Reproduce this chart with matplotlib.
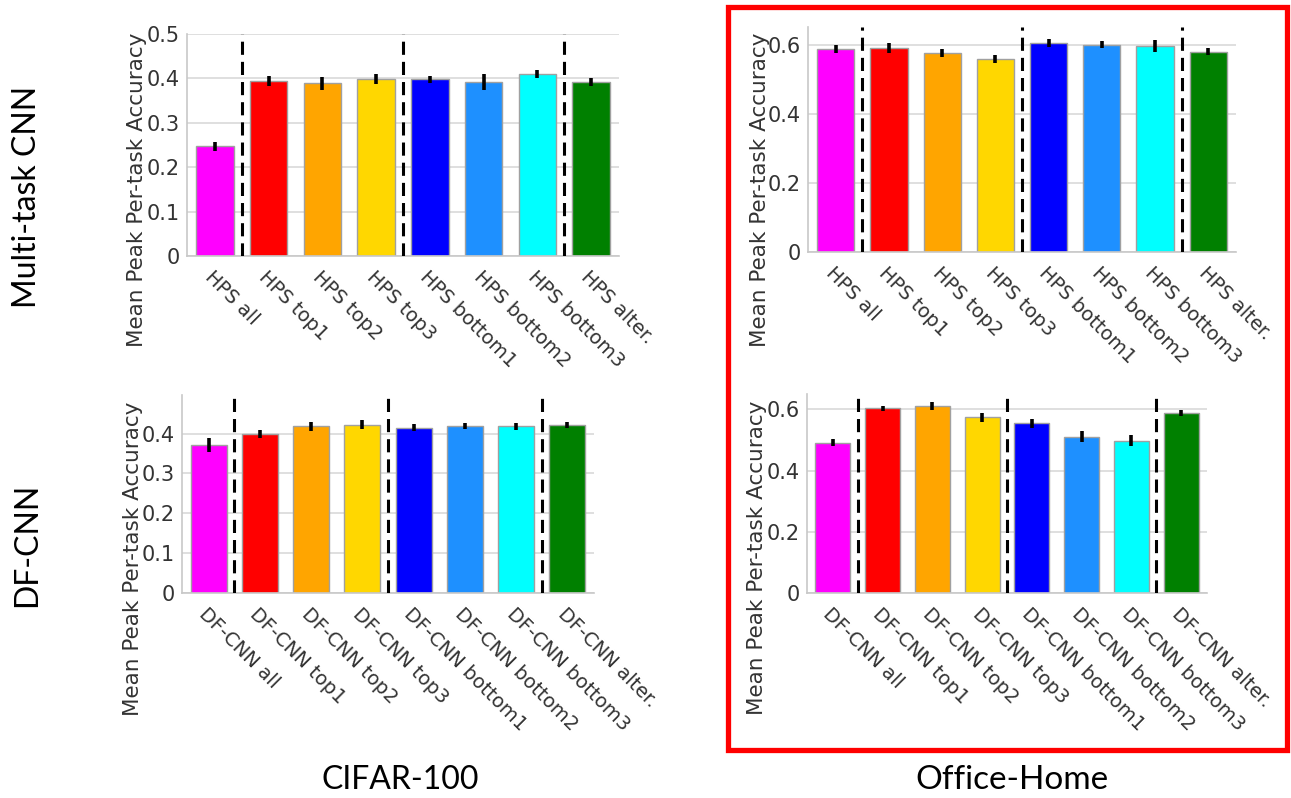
import matplotlib
matplotlib.use("Agg")
import matplotlib.pyplot as plt
from matplotlib.patches import Rectangle

W, H = 1291, 798

colors = ['#FF00FF', '#FF0000', '#FFA500', '#FFD700', '#0000FF', '#1E90FF', '#00FFFF', '#008000']

hps_labels = ['HPS all', 'HPS top1', 'HPS top2', 'HPS top3',
              'HPS bottom1', 'HPS bottom2', 'HPS bottom3', 'HPS alter.']
dfcnn_labels = ['DF-CNN all', 'DF-CNN top1', 'DF-CNN top2', 'DF-CNN top3',
                'DF-CNN bottom1', 'DF-CNN bottom2', 'DF-CNN bottom3', 'DF-CNN alter.']

# CIFAR-100, Multi-task CNN (HPS)
cifar_hps_mean = [0.247, 0.394, 0.389, 0.399, 0.398, 0.392, 0.410, 0.393]
cifar_hps_err = [0.010, 0.011, 0.014, 0.012, 0.008, 0.017, 0.008, 0.009]
# Office-Home, Multi-task CNN (HPS)
office_hps_mean = [0.587, 0.590, 0.575, 0.558, 0.605, 0.600, 0.595, 0.580]
office_hps_err = [0.011, 0.014, 0.011, 0.011, 0.011, 0.010, 0.017, 0.010]
# CIFAR-100, DF-CNN
cifar_df_mean = [0.371, 0.399, 0.418, 0.422, 0.415, 0.420, 0.418, 0.422]
cifar_df_err = [0.017, 0.009, 0.012, 0.011, 0.009, 0.0075, 0.009, 0.0075]
# Office-Home, DF-CNN
office_df_mean = [0.491, 0.603, 0.611, 0.574, 0.554, 0.511, 0.497, 0.588]
office_df_err = [0.012, 0.009, 0.013, 0.015, 0.014, 0.017, 0.018, 0.011]

separators = [0.5, 3.5, 6.5]

fig = plt.figure(figsize=(W / 100, H / 100), dpi=100)


def add_ax(x0, y0, x1, y1):
    return fig.add_axes([x0 / W, 1 - y1 / H, (x1 - x0) / W, (y1 - y0) / H])


def draw(ax, means, errs, labels, ylim, yticks, yticklabels, ylab_xy):
    xs = list(range(len(means)))
    ax.set_axisbelow(True)
    ax.yaxis.grid(True, color='#d9d9d9', lw=1.2)
    ax.bar(xs, means, width=0.7, color=colors, edgecolor='#a0a0a0', linewidth=1.0, zorder=2)
    ax.errorbar(xs, means, yerr=errs, fmt='none', ecolor='black', elinewidth=2.6, capsize=0, zorder=3)
    for s in separators:
        ax.axvline(s, color='black', lw=2.2, ls=(0, (4.3, 2.3)), zorder=4)
    ax.set_xlim(-0.52, 7.52)
    ax.set_ylim(*ylim)
    ax.set_yticks(yticks)
    ax.set_yticklabels(yticklabels)
    ax.set_xticks(xs)
    ax.set_xticklabels(labels, rotation=-45, ha='left', va='top', rotation_mode='anchor')
    ax.tick_params(axis='both', length=0, colors='#333333')
    ax.tick_params(axis='y', labelsize=15, pad=5)
    ax.tick_params(axis='x', labelsize=14, pad=8)
    for side in ['top', 'right']:
        ax.spines[side].set_visible(False)
    for side in ['left', 'bottom']:
        ax.spines[side].set_color('#c8c8c8')
        ax.spines[side].set_linewidth(1.2)
    fig.text(ylab_xy[0] / W, 1 - ylab_xy[1] / H, 'Mean Peak Per-task Accuracy',
             rotation=90, ha='center', va='center', fontsize=15.5, color='#333333')


ax1 = add_ax(187, 34, 619, 256)
draw(ax1, cifar_hps_mean, cifar_hps_err, hps_labels, (0, 0.5),
     [0, 0.1, 0.2, 0.3, 0.4, 0.5], ['0', '0.1', '0.2', '0.3', '0.4', '0.5'], (137, 190))

ax2 = add_ax(808, 27, 1236, 252)
draw(ax2, office_hps_mean, office_hps_err, hps_labels, (0, 0.651),
     [0, 0.2, 0.4, 0.6], ['0', '0.2', '0.4', '0.6'], (760, 190))

ax3 = add_ax(182, 395, 594, 593)
draw(ax3, cifar_df_mean, cifar_df_err, dfcnn_labels, (0, 0.497),
     [0, 0.1, 0.2, 0.3, 0.4], ['0', '0.1', '0.2', '0.3', '0.4'], (133, 559))

ax4 = add_ax(807, 394, 1207, 593)
draw(ax4, office_df_mean, office_df_err, dfcnn_labels, (0, 0.65),
     [0, 0.2, 0.4, 0.6], ['0', '0.2', '0.4', '0.6'], (757, 558))

big = dict(family=['Lato', 'DejaVu Sans'], color='black')
fig.text(27 / W, 1 - 197 / H, 'Multi-task CNN', rotation=90, ha='center', va='center', fontsize=23, **big)
fig.text(27 / W, 1 - 545 / H, 'DF-CNN', rotation=90, ha='center', va='center', fontsize=23, **big)
fig.text(400 / W, 1 - 780 / H, 'CIFAR-100', ha='center', va='center', fontsize=23, **big)
fig.text(1012 / W, 1 - 780 / H, 'Office-Home', ha='center', va='center', fontsize=24, **big)

rect = Rectangle((728 / W, 1 - 750 / H), (1287 - 728) / W, (750 - 7) / H,
                 transform=fig.transFigure, fill=False, edgecolor='#FF0000', lw=3.8)
fig.add_artist(rect)

fig.savefig('out.png', dpi=100)
